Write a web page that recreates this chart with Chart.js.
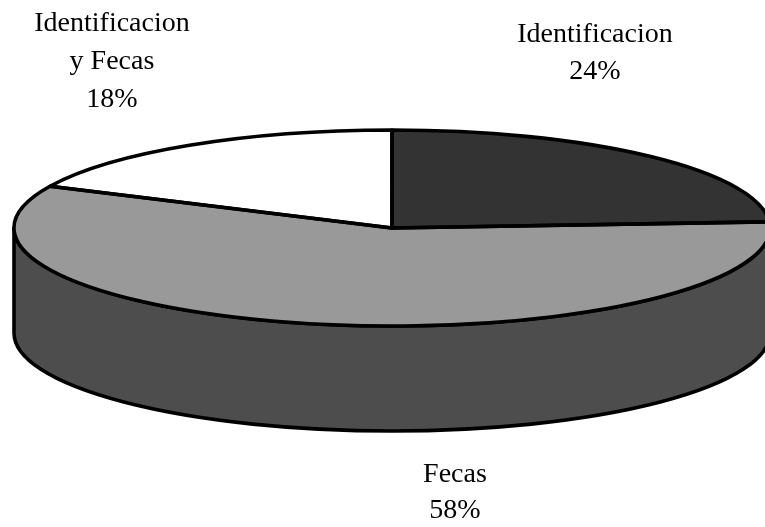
<!DOCTYPE html>
<html>
<head>
<meta charset="utf-8">
<style>
  html, body { margin: 0; padding: 0; background: #ffffff; }
  #wrap { width: 765px; height: 527px; position: relative; }
</style>
<script src="https://cdn.jsdelivr.net/npm/chart.js@4.4.1/dist/chart.umd.min.js"></script>
</head>
<body>
<div id="wrap"><canvas id="chart"></canvas></div>
<script>
// Share of samples by kind of analysis (percent)
const categories = ['Identificacion', 'Fecas', 'Identificacion y Fecas'];
const shares = [24, 58, 18];
// Category names as they are broken over lines in the slice labels
const labelLines = [['Identificacion'], ['Fecas'], ['Identificacion', 'y Fecas']];

const topColors = ['#333333', '#999999', '#ffffff'];
const sideColors = ['#262626', '#4d4d4d', '#d9d9d9'];

// Tilted-disc geometry
const RX = 378;      // horizontal semi-axis of the top face
const RY = 98;       // vertical semi-axis of the top face
const DEPTH = 105;   // thickness of the disc
const OUTLINE = 3.6;

// Where each slice label is centred (x) and its first baseline (y)
const labelAnchors = [
  { x: 595, y: 42, step: 37 },
  { x: 455, y: 482, step: 36 },
  { x: 112, y: 31, step: 38 }
];

function discTransform(ctx, arc) {
  const r = arc.outerRadius;
  ctx.translate(arc.x, arc.y);
  ctx.scale(RX / r, RY / r);
  ctx.translate(-arc.x, -arc.y);
}

const pie3d = {
  id: 'pie3d',
  beforeDatasetsDraw(chart) {
    const ctx = chart.ctx;
    const arcs = chart.getDatasetMeta(0).data;
    // Side wall: only the front half (canvas angles 0..PI) is visible
    arcs.forEach((arc, i) => {
      const a = Math.max(arc.startAngle, 0);
      const b = Math.min(arc.endAngle, Math.PI);
      if (b <= a) return;
      const cx = arc.x, cy = arc.y;
      ctx.save();
      ctx.beginPath();
      ctx.ellipse(cx, cy, RX, RY, 0, a, b, false);
      ctx.lineTo(cx + RX * Math.cos(b), cy + DEPTH + RY * Math.sin(b));
      ctx.ellipse(cx, cy + DEPTH, RX, RY, 0, b, a, true);
      ctx.closePath();
      ctx.fillStyle = sideColors[i];
      ctx.fill();
      ctx.lineWidth = OUTLINE;
      ctx.lineJoin = 'round';
      ctx.strokeStyle = '#000000';
      ctx.stroke();
      ctx.restore();
    });
    // Top face: squash the library's pie into an ellipse
    ctx.save();
    if (arcs.length) discTransform(ctx, arcs[0]);
  },
  afterDatasetsDraw(chart) {
    const ctx = chart.ctx;
    ctx.restore();
    const arcs = chart.getDatasetMeta(0).data;
    // Outline every slice; the path is built in tilted space and stroked untransformed
    arcs.forEach((arc) => {
      ctx.save();
      ctx.beginPath();
      ctx.save();
      discTransform(ctx, arc);
      ctx.moveTo(arc.x, arc.y);
      ctx.arc(arc.x, arc.y, arc.outerRadius, arc.startAngle, arc.endAngle, false);
      ctx.closePath();
      ctx.restore();
      ctx.lineWidth = OUTLINE;
      ctx.lineJoin = 'round';
      ctx.strokeStyle = '#000000';
      ctx.stroke();
      ctx.restore();
    });
  },
  afterDraw(chart) {
    const ctx = chart.ctx;
    ctx.save();
    ctx.font = '28px "Liberation Serif", "Times New Roman", serif';
    ctx.fillStyle = '#000000';
    ctx.textAlign = 'center';
    ctx.textBaseline = 'alphabetic';
    const values = chart.data.datasets[0].data;
    labelLines.forEach((lines, i) => {
      const anc = labelAnchors[i];
      const all = lines.concat([values[i] + '%']);
      all.forEach((t, k) => ctx.fillText(t, anc.x, anc.y + k * anc.step));
    });
    ctx.restore();
  }
};

new Chart(document.getElementById('chart'), {
  type: 'pie',
  data: {
    labels: categories,
    datasets: [{
      data: shares,
      backgroundColor: topColors,
      borderWidth: 0,
      clip: false
    }]
  },
  options: {
    responsive: true,
    maintainAspectRatio: false,
    animation: false,
    events: [],
    layout: { padding: { left: 292, right: 273, top: 128, bottom: 199 } },
    plugins: {
      legend: { display: false },
      tooltip: { enabled: false }
    }
  },
  plugins: [pie3d]
});
</script>
</body>
</html>
